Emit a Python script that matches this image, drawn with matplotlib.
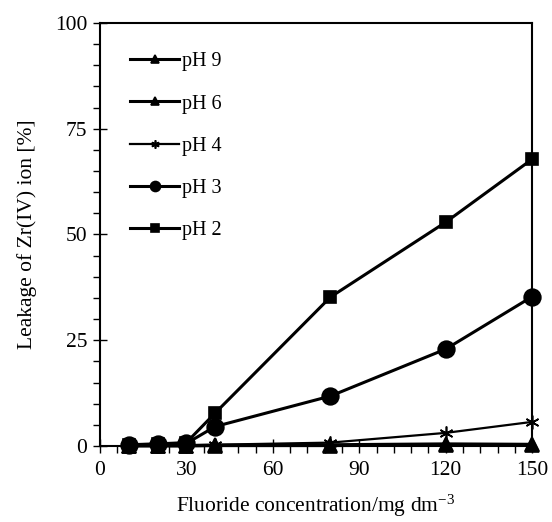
import matplotlib.pyplot as plt
from matplotlib.ticker import MultipleLocator

plt.rcParams['font.family'] = 'Liberation Serif'
plt.rcParams['mathtext.default'] = 'regular'

# data
conc = [10, 20, 30, 40, 80, 120, 150]
ph2 = [0.3, 0.5, 0.8, 7.8, 35.2, 52.9, 67.8]
ph3 = [0.3, 0.4, 0.6, 4.6, 11.8, 22.9, 35.3]
ph4 = [0.1, 0.2, 0.2, 0.3, 0.8, 3.1, 5.7]
ph6 = [0.1, 0.1, 0.1, 0.2, 0.3, 0.5, 0.4]
ph9 = [0.0, 0.0, 0.0, 0.1, 0.1, 0.2, 0.2]
labels = ['pH 2', 'pH 3', 'pH 4', 'pH 6', 'pH 9']

fig = plt.figure(figsize=(5.52, 5.22), dpi=100)
ax = fig.add_axes([0.181, 0.1456, 0.783, 0.8104])

series = [ph2, ph3, ph4, ph6, ph9]
markers = ['s', 'o', (6, 2, 0), '^', '^']
msizes = [8.5, 12, 10, 10.5, 10.5]
lws = [2.2, 2.2, 1.6, 2.2, 2.2]

handles = []
for ys, m, ms, lw, lab in zip(series, markers, msizes, lws, labels):
    h, = ax.plot(conc, ys, color='black', marker=m, markersize=ms, lw=lw,
                 markeredgewidth=1.2, label=lab, clip_on=False, zorder=3)
    handles.append(h)

ax.set_xlim(0, 150)
ax.set_ylim(0, 100)
ax.xaxis.set_major_locator(MultipleLocator(30))
ax.xaxis.set_minor_locator(MultipleLocator(6))
ax.yaxis.set_major_locator(MultipleLocator(25))
ax.yaxis.set_minor_locator(MultipleLocator(5))
ax.tick_params(which='major', direction='inout', length=10, width=1, labelsize=15.5)
ax.tick_params(axis='x', which='major', pad=6)
ax.tick_params(axis='y', which='major', pad=4)
ax.tick_params(which='minor', direction='out', length=5, width=1)
for s in ax.spines.values():
    s.set_linewidth(1.5)

ax.set_xlabel('Fluoride concentration/mg dm$^{-3}$', fontsize=15.5, labelpad=9)
ax.set_ylabel('Leakage of Zr(IV) ion [%]', fontsize=15.5, labelpad=13)

ax.legend(handles[::-1], labels[::-1], loc='upper left', frameon=False,
          fontsize=14.5, handlelength=2.4, handletextpad=0.15, labelspacing=1.15,
          markerscale=0.6, bbox_to_anchor=(0.052, 0.95), borderaxespad=0)

fig.savefig('out.png', dpi=100)
